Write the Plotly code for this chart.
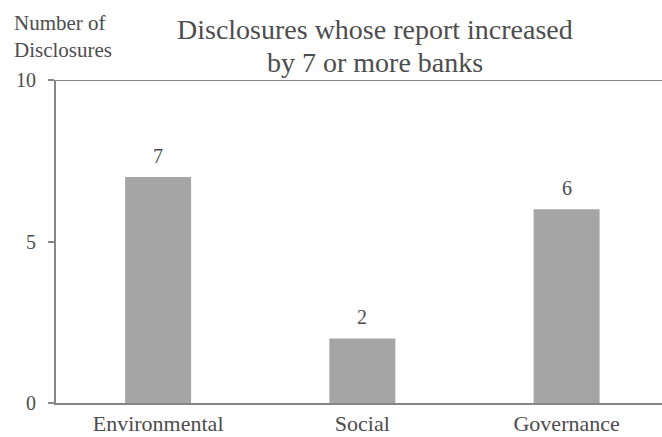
import plotly.graph_objects as go

categories = ["Environmental", "Social", "Governance"]
counts = [7, 2, 6]
y_ticks = [0, 5, 10]
title_lines = ["Disclosures whose report increased", "by 7 or more banks"]

TEXT = "#4d4d4d"
AXIS = "#868686"
BAR = "#a5a5a5"
FONT = "Liberation Serif"

fig = go.Figure(
    go.Bar(
        x=categories,
        y=counts,
        marker=dict(color=BAR, line=dict(width=0)),
        hoverinfo="skip",
    )
)

for c, v in zip(categories, counts):
    fig.add_annotation(
        x=c, y=v, text=str(v), showarrow=False, yanchor="bottom", yshift=8,
        font=dict(family=FONT, size=20, color=TEXT),
    )

# top boundary line at the maximum of the value axis
fig.add_shape(
    type="line", xref="paper", yref="y", x0=-0.01, x1=1, y0=10, y1=10,
    line=dict(color=AXIS, width=2),
)

# two-line title, each line placed separately for tight line spacing
for i, line in enumerate(title_lines):
    fig.add_annotation(
        xref="paper", yref="paper", x=0.526, y=1.0, yshift=51 - 33 * i,
        xanchor="center", yanchor="middle", text=line, showarrow=False,
        font=dict(family=FONT, size=28, color=TEXT),
    )

fig.add_annotation(
    xref="paper", yref="paper", x=0, xshift=-44, y=1.0, yshift=71, xanchor="left", yanchor="top",
    text="Number of<br>Disclosures", showarrow=False, align="left",
    font=dict(family=FONT, size=21, color=TEXT),
)

fig.update_layout(
    width=662, height=437,
    margin=dict(l=56, r=0, t=80, b=34),
    paper_bgcolor="white", plot_bgcolor="white",
    bargap=0.677,
    showlegend=False,
    font=dict(family=FONT, color=TEXT),
)
fig.update_xaxes(
    range=[-0.5, 2.467], showgrid=False, showline=True, linecolor=AXIS, linewidth=2,
    ticks="", tickfont=dict(family=FONT, size=22, color=TEXT), ticklabelstandoff=0,
    zeroline=False, automargin=False,
)
fig.update_yaxes(
    range=[0, 10], tickvals=y_ticks, showgrid=False, showline=True, linecolor=AXIS, linewidth=2,
    ticks="outside", ticklen=6, tickwidth=2, tickcolor=AXIS,
    tickfont=dict(family=FONT, size=20, color=TEXT), ticklabelstandoff=8, zeroline=False,
    automargin=False,
)

fig.write_html("out.html")
